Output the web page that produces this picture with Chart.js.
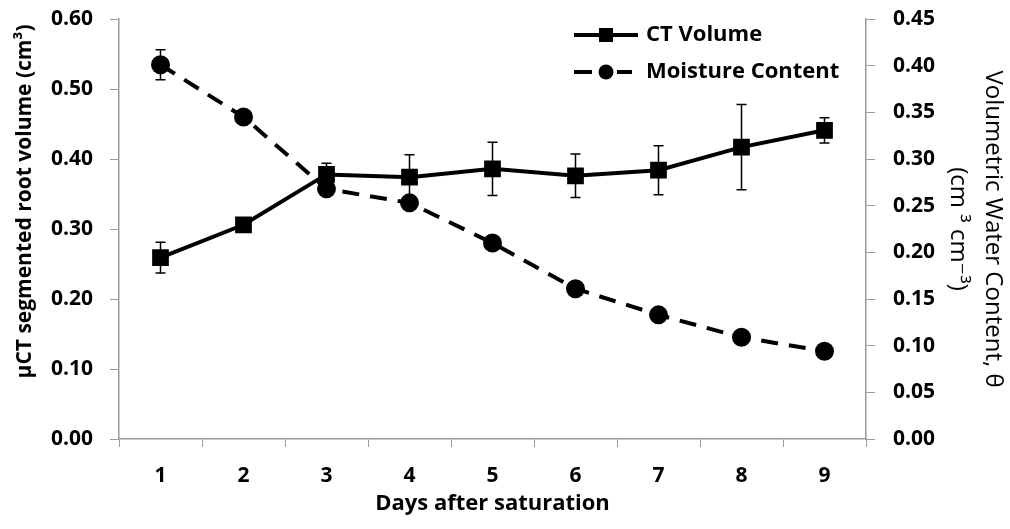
<!DOCTYPE html>
<html>
<head>
<meta charset="utf-8">
<script src="https://cdn.jsdelivr.net/npm/chart.js@4.4.1/dist/chart.umd.min.js"></script>
<style>
  body { margin: 0; background: #fff; }
  #wrap { width: 1010px; height: 529px; }
</style>
</head>
<body>
<div id="wrap"><canvas id="chart"></canvas></div>
<script>
// data
const days = ['1', '2', '3', '4', '5', '6', '7', '8', '9'];
const ctVolume = [0.259, 0.306, 0.378, 0.374, 0.386, 0.376, 0.384, 0.417, 0.441];
const ctError = [0.022, 0.006, 0.016, 0.032, 0.038, 0.031, 0.035, 0.061, 0.018];
const moisture = [0.401, 0.345, 0.268, 0.253, 0.210, 0.161, 0.133, 0.109, 0.094];
const moistureError = [0.016, 0, 0, 0, 0, 0, 0, 0, 0];

const FONT = "'Open Sans', 'DejaVu Sans', sans-serif";
const AXIS_GREY = '#9a9a9a';

// legend icons: line with marker in the middle
function makeIcon(dashed) {
    const c = document.createElement('canvas');
    c.width = 66; c.height = 20;
    const g = c.getContext('2d');
    g.strokeStyle = '#000';
    g.fillStyle = '#000';
    g.lineWidth = 4;
    g.beginPath();
    if (dashed) {
        g.moveTo(2, 10); g.lineTo(20, 10);
        g.moveTo(45, 10); g.lineTo(60, 10);
    } else {
        g.moveTo(2, 10); g.lineTo(66, 10);
    }
    g.stroke();
    if (dashed) {
        g.beginPath(); g.arc(34, 10, 7.5, 0, Math.PI * 2); g.fill();
    } else {
        g.fillRect(27, 3, 14, 14);
    }
    return c;
}
const legendIcons = [makeIcon(false), makeIcon(true)];

// error bars drawn behind the markers
const errorBars = {
    id: 'errorBars',
    beforeDatasetsDraw(chart) {
        const ctx = chart.ctx;
        const x = chart.scales.x;
        [[ctVolume, ctError, 'y'], [moisture, moistureError, 'y1']].forEach(([vals, errs, axis]) => {
            const y = chart.scales[axis];
            vals.forEach((v, i) => {
                if (!errs[i]) return;
                const px = x.getPixelForValue(i);
                const top = y.getPixelForValue(v + errs[i]);
                const bot = y.getPixelForValue(v - errs[i]);
                ctx.save();
                ctx.strokeStyle = '#000';
                ctx.lineWidth = 1.5;
                ctx.beginPath();
                ctx.moveTo(px, top); ctx.lineTo(px, bot);
                ctx.moveTo(px - 5, top); ctx.lineTo(px + 5, top);
                ctx.moveTo(px - 5, bot); ctx.lineTo(px + 5, bot);
                ctx.stroke();
                ctx.restore();
            });
        });
    }
};

// put the legend inside the plot, top right
const legendPlace = {
    id: 'legendPlace',
    afterLayout(chart) {
        const lg = chart.legend;
        if (!lg) return;
        lg.left = 560;
        lg.top = 9;
    }
};

// fixed axis sizes, no extra end padding for labels
function fixSize(w, h) {
    return s => {
        if (w) s.width = w;
        if (h) s.height = h;
        s.paddingTop = 0; s.paddingBottom = 0;
        s.paddingLeft = 0; s.paddingRight = 0;
    };
}

new Chart(document.getElementById('chart'), {
    type: 'line',
    data: {
        labels: days,
        datasets: [{
            label: 'CT Volume',
            data: ctVolume,
            yAxisID: 'y',
            borderColor: '#000',
            backgroundColor: '#000',
            borderWidth: 4,
            pointStyle: 'rect',
            pointRadius: 9,
            pointHoverRadius: 9,
            tension: 0
        }, {
            label: 'Moisture Content',
            data: moisture,
            yAxisID: 'y1',
            borderColor: '#000',
            backgroundColor: '#000',
            borderWidth: 4,
            borderDash: [17, 11],
            pointStyle: 'circle',
            pointRadius: 7.5,
            pointHoverRadius: 7.5,
            tension: 0
        }]
    },
    options: {
        responsive: true,
        maintainAspectRatio: false,
        animation: false,
        layout: { padding: { top: 19, left: 0, right: 0, bottom: 0 } },
        plugins: {
            tooltip: { enabled: false },
            legend: {
                position: 'chartArea',
                align: 'start',
                labels: {
                    usePointStyle: true,
                    pointStyleWidth: 60,
                    padding: 15,
                    color: '#000',
                    font: { family: FONT, size: 22, weight: 'bold' },
                    generateLabels: chart => Chart.defaults.plugins.legend.labels.generateLabels(chart)
                        .map((l, i) => ({ ...l, pointStyle: legendIcons[i] }))
                }
            }
        },
        scales: {
            x: {
                type: 'category',
                offset: true,
                grid: { drawOnChartArea: false, drawTicks: true, tickLength: 8, color: AXIS_GREY, offset: true },
                border: { color: AXIS_GREY, width: 1.5 },
                ticks: { color: '#000', padding: 16, font: { family: FONT, size: 21, weight: 'bold' } },
                title: {
                    display: true,
                    text: 'Days after saturation',
                    color: '#000',
                    padding: { top: 0, bottom: 12 },
                    font: { family: FONT, size: 22, weight: 'bold' }
                },
                afterFit: fixSize(0, 90)
            },
            y: {
                position: 'left',
                min: 0,
                max: 0.6,
                grid: { drawOnChartArea: false, tickLength: 9, color: AXIS_GREY },
                border: { color: AXIS_GREY, width: 1.5 },
                ticks: {
                    stepSize: 0.1,
                    color: '#000',
                    padding: 17,
                    font: { family: FONT, size: 21, weight: 'bold' },
                    callback: v => v.toFixed(2)
                },
                title: {
                    display: true,
                    text: 'µCT segmented root volume (cm³) ',
                    align: 'end',
                    color: '#000',
                    padding: { top: 12, bottom: 0 },
                    font: { family: FONT, size: 21, weight: 'bold' }
                },
                afterFit: fixSize(119, 0)
            },
            y1: {
                position: 'right',
                min: 0,
                max: 0.45,
                grid: { drawOnChartArea: false, tickLength: 9, color: AXIS_GREY },
                border: { color: AXIS_GREY, width: 1.5 },
                ticks: {
                    stepSize: 0.05,
                    color: '#000',
                    padding: 18,
                    font: { family: FONT, size: 21, weight: 'bold' },
                    callback: v => v.toFixed(2)
                },
                title: {
                    display: true,
                    text: ['Volumetric Water Content, θ', '(cm ³ cm⁻³)'],
                    color: '#000',
                    padding: { top: 0, bottom: 0 },
                    font: { family: FONT, size: 24, weight: 'normal', lineHeight: 1.46 }
                },
                afterFit: fixSize(144, 0)
            }
        }
    },
    plugins: [errorBars, legendPlace]
});
</script>
</body>
</html>
